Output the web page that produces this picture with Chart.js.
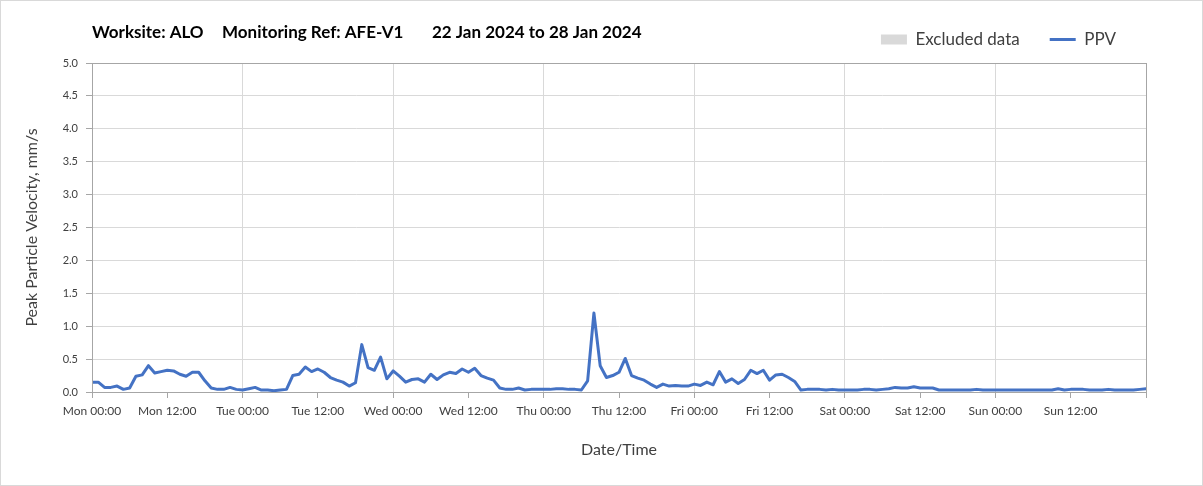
<!DOCTYPE html>
<html>
<head>
<meta charset="utf-8">
<script src="https://cdn.jsdelivr.net/npm/chart.js@4.4.1/dist/chart.umd.min.js"></script>
<style>
  html, body { margin: 0; padding: 0; background: #fff; }
  #wrap { position: relative; width: 1201px; height: 484px; border: 1px solid #d9d9d9; }
  canvas { display: block; }
</style>
</head>
<body>
<div id="wrap"><canvas id="ppvChart" width="1201" height="484"></canvas></div>
<script>
// hourly PPV readings, Mon 00:00 to Mon 00:00 (168 h)
const dayNames = ["Mon", "Tue", "Wed", "Thu", "Fri", "Sat", "Sun"];
const ppvValues = [
  0.15, 0.15, 0.07, 0.07, 0.09, 0.04, 0.06, 0.24, 0.26, 0.40, 0.29, 0.31, 0.33, 0.32, 0.27, 0.24, 0.30, 0.30, 0.17, 0.06, 0.04, 0.04, 0.07, 0.04,
  0.03, 0.05, 0.07, 0.03, 0.03, 0.02, 0.03, 0.04, 0.25, 0.27, 0.38, 0.31, 0.35, 0.30, 0.22, 0.18, 0.15, 0.09, 0.14, 0.72, 0.37, 0.33, 0.53, 0.20,
  0.32, 0.24, 0.15, 0.19, 0.20, 0.15, 0.27, 0.19, 0.26, 0.30, 0.28, 0.35, 0.30, 0.36, 0.25, 0.21, 0.18, 0.06, 0.04, 0.04, 0.06, 0.03, 0.04, 0.04,
  0.04, 0.04, 0.05, 0.05, 0.04, 0.04, 0.03, 0.17, 1.20, 0.40, 0.22, 0.25, 0.30, 0.51, 0.25, 0.21, 0.18, 0.12, 0.07, 0.12, 0.09, 0.10, 0.09, 0.09,
  0.12, 0.10, 0.15, 0.11, 0.31, 0.15, 0.20, 0.13, 0.19, 0.33, 0.28, 0.33, 0.18, 0.26, 0.27, 0.22, 0.16, 0.03, 0.04, 0.04, 0.04, 0.03, 0.04, 0.03,
  0.03, 0.03, 0.03, 0.04, 0.04, 0.03, 0.04, 0.05, 0.07, 0.06, 0.06, 0.08, 0.06, 0.06, 0.06, 0.03, 0.03, 0.03, 0.03, 0.03, 0.03, 0.04, 0.03, 0.03,
  0.03, 0.03, 0.03, 0.03, 0.03, 0.03, 0.03, 0.03, 0.03, 0.03, 0.05, 0.03, 0.04, 0.04, 0.04, 0.03, 0.03, 0.03, 0.04, 0.03, 0.03, 0.03, 0.03, 0.04,
  0.05
];
const yTickStep = 0.5;
const yMax = 5.0;
const titleParts = ["Worksite: ALO", "Monitoring Ref: AFE-V1", "22 Jan 2024 to 28 Jan 2024"];

const fontFamily = "Lato, 'Open Sans', sans-serif";
const textColor = "#404040";
const axisColor = "#a6a6a6";
const gridColor = "#d9d9d9";

const headerPlugin = {
  id: "header",
  afterDraw(chart) {
    const ctx = chart.ctx;
    ctx.save();
    ctx.font = "bold 17px " + fontFamily;
    ctx.fillStyle = "#000";
    ctx.textBaseline = "middle";
    const xs = [91, 221, 431];
    titleParts.forEach((t, i) => ctx.fillText(t, xs[i], 32));
    ctx.restore();
  },
};

const plotBoxPlugin = {
  id: "plotBox",
  afterDatasetsDraw(chart) {
    const a = chart.chartArea;
    const ctx = chart.ctx;
    ctx.save();
    ctx.strokeStyle = axisColor;
    ctx.lineWidth = 1;
    ctx.strokeRect(Math.round(a.left) + 0.5, Math.round(a.top) + 0.5, Math.round(a.right - a.left), Math.round(a.bottom - a.top));
    ctx.restore();
  },
};

const legendHeightPlugin = {
  id: "legendHeight",
  beforeInit(chart) {
    const fit = chart.legend.fit;
    chart.legend.fit = function () {
      fit.bind(chart.legend)();
      this.height = 62;
    };
  },
};

const ctx = document.getElementById("ppvChart").getContext("2d");

new Chart(ctx, {
  type: "line",
  data: {
    labels: ppvValues.map((v, i) => i),
    datasets: [
      {
        label: "Excluded data",
        data: [],
        backgroundColor: "#d9d9d9",
        borderColor: "#d9d9d9",
        borderWidth: 0,
        pointStyle: "rect",
      },
      {
        label: "PPV",
        data: ppvValues.map((v, i) => ({ x: i, y: v })),
        borderColor: "#4472c4",
        backgroundColor: "#4472c4",
        borderWidth: 3,
        borderJoinStyle: "round",
        borderCapStyle: "round",
        pointRadius: 0,
        pointStyle: "line",
        tension: 0,
      },
    ],
  },
  options: {
    responsive: false,
    animation: false,
    layout: { padding: { top: 0, left: 15, right: 56, bottom: 20 } },
    plugins: {
      legend: {
        position: "top",
        align: "end",
        labels: {
          usePointStyle: true,
          pointStyleWidth: 26,
          boxHeight: 10,
          padding: 30,
          color: "#404040",
          font: { family: fontFamily, size: 17 },
        },
      },
      tooltip: { enabled: false },
    },
    scales: {
      x: {
        type: "linear",
        min: 0,
        max: 168,
        afterFit: (s) => { s.height = 73; },
        ticks: {
          stepSize: 12,
          autoSkip: false,
          maxRotation: 0,
          padding: 6,
          color: textColor,
          font: { family: fontFamily, size: 12 },
          callback: (h) => (h >= 168 ? "" : dayNames[Math.floor(h / 24)] + " " + (h % 24 === 0 ? "00:00" : "12:00")),
        },
        grid: {
          color: (c) => (c.tick && c.tick.value % 24 === 0 ? gridColor : "rgba(0,0,0,0)"),
          tickColor: axisColor,
          tickLength: 6,
        },
        border: { color: axisColor },
        title: {
          display: true,
          text: "Date/Time",
          color: textColor,
          font: { family: fontFamily, size: 16 },
          padding: { top: 4, bottom: 6 },
        },
      },
      y: {
        min: 0,
        max: yMax,
        afterFit: (s) => { s.width = 76; },
        ticks: {
          stepSize: yTickStep,
          padding: 8,
          color: textColor,
          font: { family: fontFamily, size: 11 },
          callback: (v) => v.toFixed(1),
        },
        grid: { color: gridColor, tickColor: axisColor, tickLength: 6 },
        border: { color: axisColor },
        title: {
          display: true,
          text: "Peak Particle Velocity, mm/s",
          color: textColor,
          font: { family: fontFamily, size: 16 },
          padding: { top: 6, bottom: 4 },
        },
      },
    },
  },
  plugins: [legendHeightPlugin, plotBoxPlugin, headerPlugin],
});
</script>
</body>
</html>
